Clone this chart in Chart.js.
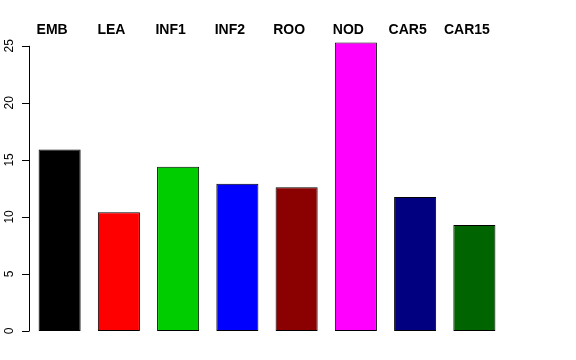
<!DOCTYPE html>
<html>
<head>
<meta charset="utf-8">
<script src="https://cdn.jsdelivr.net/npm/chart.js@4"></script>
<style>
  html, body { margin: 0; padding: 0; background: #fff; }
  #wrap { width: 576px; height: 360px; }
</style>
</head>
<body>
<div id="wrap"><canvas id="myChart" width="576" height="360"></canvas></div>
<script>
'use strict';

var categories = ['EMB', 'LEA', 'INF1', 'INF2', 'ROO', 'NOD', 'CAR5', 'CAR15'];
var values = [15.9, 10.4, 14.4, 12.9, 12.6, 25.3, 11.75, 9.3];
var barColors = ['#000000', '#ff0000', '#00cd00', '#0000ff', '#8b0000', '#ff00ff', '#000080', '#006400'];
var yTicks = [0, 5, 10, 15, 20, 25];

// R style axis on the left: line from first to last tick, rotated labels
var rAxis = {
  id: 'rAxis',
  afterDraw: function (chart) {
    var c = chart.ctx;
    var y = chart.scales.y;
    var x0 = chart.chartArea.left - 1;
    c.save();
    c.strokeStyle = '#000';
    c.lineWidth = 1;
    c.beginPath();
    c.moveTo(x0 + 0.5, y.getPixelForValue(yTicks[0]));
    c.lineTo(x0 + 0.5, y.getPixelForValue(yTicks[yTicks.length - 1]));
    yTicks.forEach(function (t) {
      var py = Math.round(y.getPixelForValue(t)) + 0.5;
      c.moveTo(x0 + 0.5, py);
      c.lineTo(x0 - 7, py);
    });
    c.stroke();
    c.fillStyle = '#000';
    c.font = '12px "Liberation Sans", Arial, sans-serif';
    c.textAlign = 'center';
    c.textBaseline = 'middle';
    yTicks.forEach(function (t) {
      c.save();
      c.translate(10, y.getPixelForValue(t));
      c.rotate(-Math.PI / 2);
      c.fillText(String(t), 0, 0);
      c.restore();
    });
    // bold category names above the bars
    var meta = chart.getDatasetMeta(0);
    c.font = 'bold 14px "Liberation Sans", Arial, sans-serif';
    c.textBaseline = 'alphabetic';
    meta.data.forEach(function (bar, i) {
      c.fillText(categories[i], bar.x - 7.5, 34);
    });
    c.restore();
  }
};

var ctx = document.getElementById('myChart');
var myChart = new Chart(ctx, {
  type: 'bar',
  data: {
    labels: categories,
    datasets: [{
      data: values,
      backgroundColor: barColors,
      borderColor: '#000',
      borderWidth: 1,
      borderSkipped: false,
      barPercentage: 0.71,
      categoryPercentage: 1
    }]
  },
  options: {
    responsive: false,
    animation: false,
    layout: { padding: { left: 30, right: 72, top: 23, bottom: 29 } },
    plugins: { legend: { display: false }, tooltip: { enabled: false } },
    scales: {
      x: { display: false },
      y: { display: false, min: 0, max: 27 }
    }
  },
  plugins: [rAxis]
});
</script>
</body>
</html>
